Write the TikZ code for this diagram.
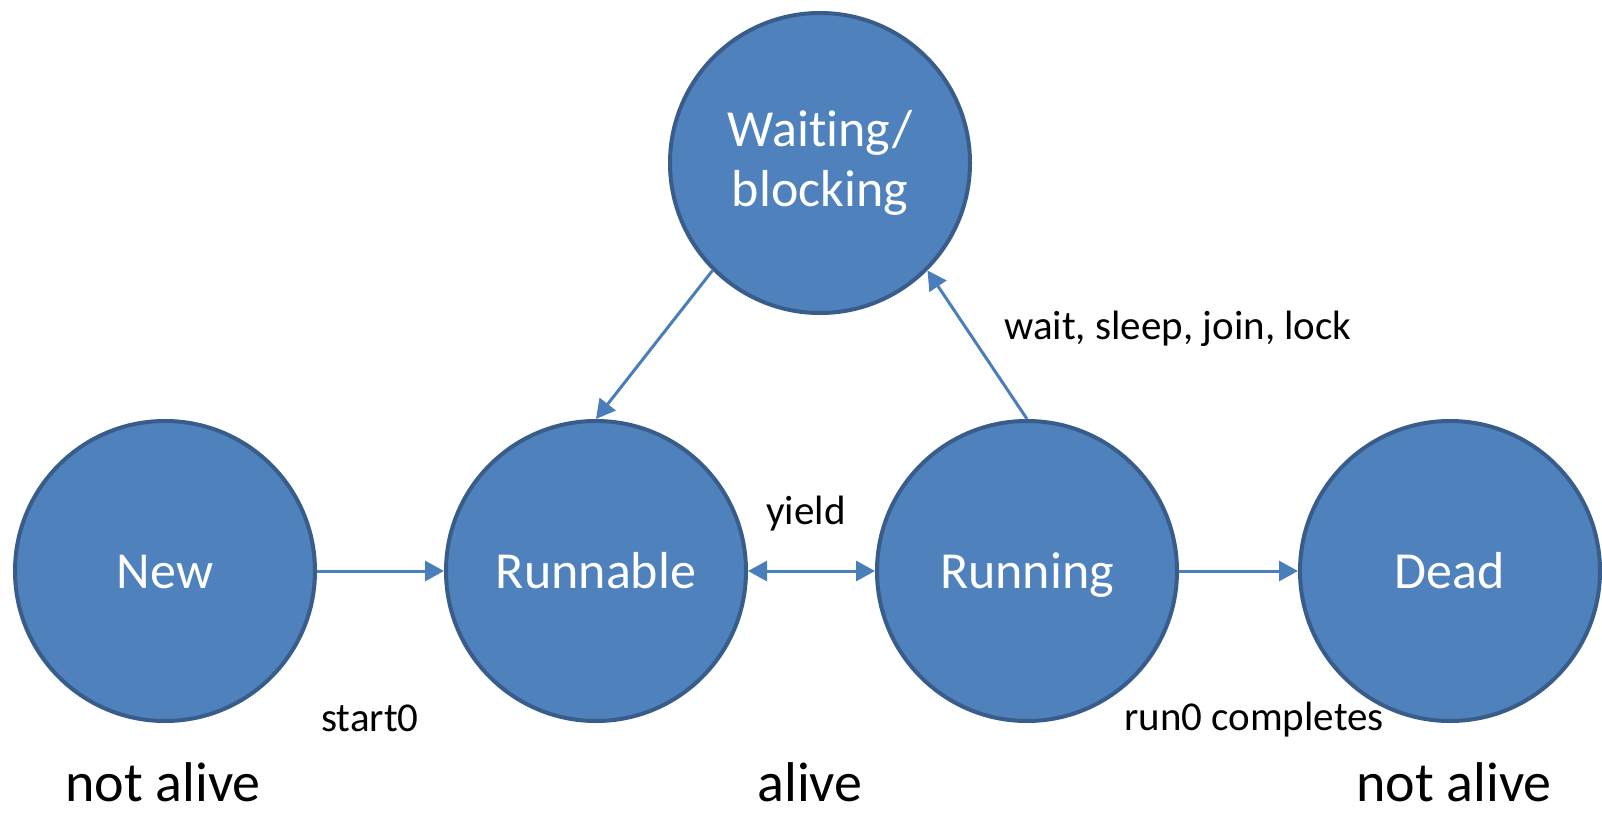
\documentclass[tikz,border=0pt]{standalone}
\usepackage{fontspec}
\setmainfont{Carlito}[Ligatures=NoCommon]
\usetikzlibrary{arrows.meta}
\definecolor{stateFill}{HTML}{4F81BD}
\definecolor{stateLine}{HTML}{385D8A}
\definecolor{edgeBlue}{HTML}{4A7EBB}
\begin{document}
\begin{tikzpicture}[x=0.5pt,y=-0.5pt,
  state/.style={circle, fill=stateFill, draw=stateLine, line width=2pt,
    minimum size=150pt, inner sep=0pt, text=white,
    font=\fontsize{26}{30}\selectfont},
  oneline/.style={text height=17pt, text depth=0pt},
  link/.style={draw=edgeBlue, line width=1.5pt, -{Triangle[length=9.5pt,width=10pt]}},
  twoway/.style={draw=edgeBlue, line width=1.5pt,
    {Triangle[length=9.5pt,width=10pt]}-{Triangle[length=9.5pt,width=10pt]}},
  tag/.style={font=\fontsize{20.5}{24}\selectfont, anchor=base},
  life/.style={font=\fontsize{28}{32}\selectfont, anchor=base}]

  % canvas
  \fill[white] (0,0) rectangle (1602,814);
  \useasboundingbox (0,0) rectangle (1602,814);

  % thread states
  \node[state, oneline] (new)      at (165,571)  {New};
  \node[state, oneline] (runnable) at (596,571)  {Runnable};
  \node[state, oneline] (running)  at (1027,571) {Running};
  \node[state, oneline] (dead)     at (1450,571) {Dead};
  \node[state, align=center] (waiting) at (820,163) {Waiting/\\blocking};

  % transitions
  \draw[link] (new) -- (runnable);
  \draw[twoway] (runnable) -- (running);
  \draw[link] (running) -- (dead);
  \draw[link] (waiting.south west) -- (runnable.north);
  \draw[link] (running.north) -- (waiting.south east);

  % transition labels
  \node[tag] (yieldlbl) at (806,524)  {yield};
  \node[tag] (startlbl) at (370,731)  {start0};
  \node[tag] (runlbl)   at (1254,730) {run0 completes};
  \node[tag] (waitlbl)  at (1178,339) {wait, sleep, join, lock};

  % liveness
  \node[life] (lifenew)  at (163,801)  {not alive};
  \node[life] (lifemid)  at (810,801)  {alive};
  \node[life] (lifedead) at (1454,801) {not alive};
\end{tikzpicture}
\end{document}
